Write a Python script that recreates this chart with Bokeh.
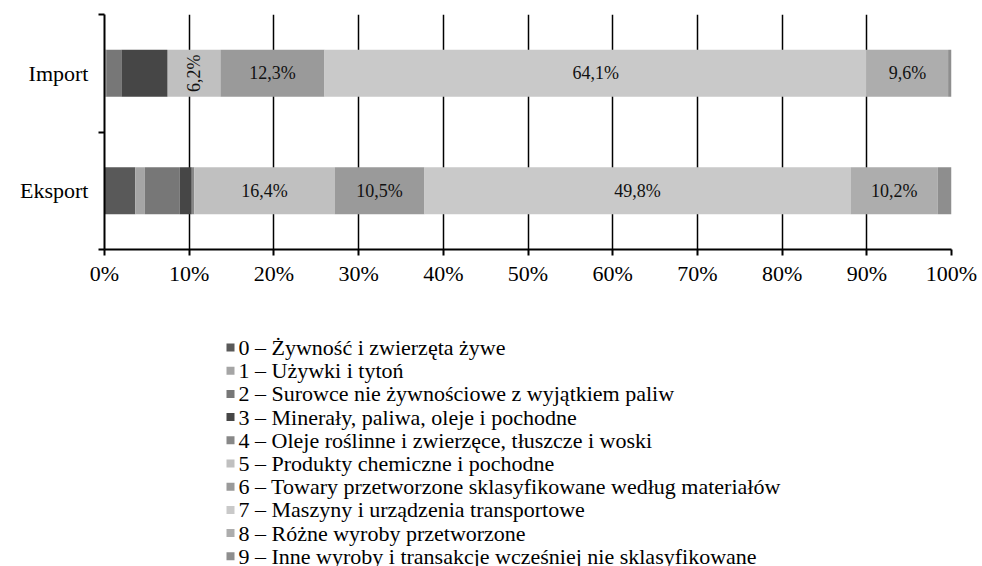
import numpy as np
from bokeh.plotting import figure
from bokeh.layouts import column
from bokeh.models import ColumnDataSource, FixedTicker, Range1d
from bokeh.core.properties import value
from bokeh.embed import file_html
from bokeh.resources import INLINE

categories = ["Import", "Eksport"]
series = [
    "0 – Żywność i zwierzęta żywe",
    "1 – Używki i tytoń",
    "2 – Surowce nie żywnościowe z wyjątkiem paliw",
    "3 – Minerały, paliwa, oleje i pochodne",
    "4 – Oleje roślinne i zwierzęce, tłuszcze i woski",
    "5 – Produkty chemiczne i pochodne",
    "6 – Towary przetworzone sklasyfikowane według materiałów",
    "7 – Maszyny i urządzenia transportowe",
    "8 – Różne wyroby przetworzone",
    "9 – Inne wyroby i transakcje wcześniej nie sklasyfikowane",
]
import_vals = [0.1, 0.1, 1.8, 5.4, 0.1, 6.2, 12.3, 64.1, 9.6, 0.4]
export_vals = [3.6, 1.1, 4.1, 1.4, 0.3, 16.4, 10.5, 49.8, 10.2, 1.6]
colors = ["#595959", "#a5a5a5", "#777777", "#464646", "#888888",
          "#c0c0c0", "#9a9a9a", "#c9c9c9", "#adadad", "#8e8e8e"]
x_ticks = [0, 10, 20, 30, 40, 50, 60, 70, 80, 90, 100]

FONT = "Liberation Serif"
rows = [import_vals, export_vals]
ncat = len(categories)
ypos = [ncat - i - 0.5 for i in range(ncat)]

norm = [np.array(r) / np.sum(r) * 100 for r in rows]
keys = [f"s{i}" for i in range(len(series))]
data = {"y": ypos}
for j, k in enumerate(keys):
    data[k] = [n[j] for n in norm]
src = ColumnDataSource(data)

p = figure(width=980, height=300, output_backend="svg", toolbar_location=None,
           x_range=(0, 100), y_range=(0, ncat),
           min_border_left=104, min_border_right=29, min_border_top=14,
           min_border_bottom=51)
p.outline_line_color = None
p.background_fill_color = "white"

p.hbar_stack(keys, y="y", height=0.4, color=colors, source=src, line_width=0)

lx, ly, lt, la = [], [], [], []
for i, (r, n) in enumerate(zip(rows, norm)):
    left = np.concatenate([[0], np.cumsum(n)[:-1]])
    for j, v in enumerate(r):
        if v > 6:
            lx.append(left[j] + n[j] / 2)
            ly.append(ypos[i])
            lt.append(f"{v:.1f}".replace(".", ",") + "%")
            la.append(np.pi / 2 if v < 7 else 0.0)
p.text(x=lx, y=ly, text=lt, angle=la, text_align="center", text_baseline="middle",
       text_font=value(FONT), text_font_size="18px", text_color="#111111")

xa = p.xaxis[0]
xa.ticker = FixedTicker(ticks=x_ticks)
xa.major_label_overrides = {t: f"{t}%" for t in x_ticks}
xa.major_label_text_font = FONT
xa.major_label_text_font_size = "22px"
xa.major_label_text_color = "black"
xa.axis_line_color = "black"
xa.axis_line_width = 2
xa.major_tick_line_color = "black"
xa.major_tick_line_width = 2
xa.major_tick_out = 6
xa.major_tick_in = 0
xa.minor_tick_line_color = None
xa.major_label_standoff = 5

ya = p.yaxis[0]
ya.ticker = FixedTicker(ticks=ypos, minor_ticks=list(range(ncat + 1)))
ya.major_label_overrides = {y: c for y, c in zip(ypos, categories)}
ya.major_label_text_font = FONT
ya.major_label_text_font_size = "22px"
ya.major_label_text_color = "black"
ya.axis_line_color = "black"
ya.axis_line_width = 2
ya.major_tick_line_color = None
ya.major_tick_out = 0
ya.major_tick_in = 0
ya.minor_tick_line_color = "black"
ya.minor_tick_line_width = 2
ya.minor_tick_out = 6
ya.minor_tick_in = 0
ya.major_label_standoff = 10

p.ygrid.grid_line_color = None
p.xgrid.ticker = FixedTicker(ticks=x_ticks[1:])
p.xgrid.grid_line_color = "black"
p.xgrid.grid_line_width = 1.5

# legend panel: a pixel-scaled, axis-free figure below the chart
p2 = figure(width=980, height=266, output_backend="svg", toolbar_location=None,
            x_range=Range1d(0, 847), y_range=Range1d(266, 0),
            x_axis_type=None, y_axis_type=None,
            min_border_left=104, min_border_right=29, min_border_top=0,
            min_border_bottom=0)
p2.outline_line_color = None
p2.grid.visible = False

row_step = 23.2
first_row = 47
idx = np.arange(len(series))
leg_src = ColumnDataSource(dict(
    y=first_row + row_step * idx,
    sx=np.full(len(series), 126.0),
    tx=np.full(len(series), 134.0),
    label=series,
    color=colors,
))
p2.scatter(x="sx", y="y", marker="square", size=8, color="color",
           line_width=0, source=leg_src)
p2.text(x="tx", y="y", text="label", text_align="left", text_baseline="middle",
        text_font=value(FONT), text_font_size="22px", text_color="black",
        source=leg_src)

open("out.html", "w").write(file_html(column(p, p2, spacing=0), INLINE))
